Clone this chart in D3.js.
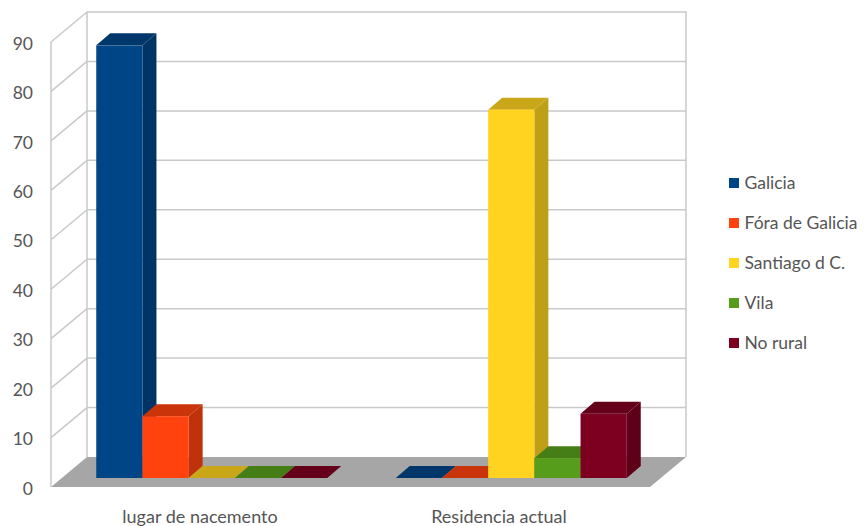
<!DOCTYPE html>
<html>
<head>
<meta charset="utf-8">
<script src="https://cdn.jsdelivr.net/npm/d3@7"></script>
<style>
html, body { margin: 0; padding: 0; background: #fff; }
text { font-family: Lato, "Open Sans", sans-serif; fill: #555; }
</style>
</head>
<body>
<svg id="chart" width="864" height="526"></svg>
<script>
const categories = ["lugar de nacemento", "Residencia actual"];
const seriesNames = ["Galicia", "Fóra de Galicia", "Santiago d C.", "Vila", "No rural"];
const seriesColors = ["#004586", "#ff420e", "#ffd320", "#579d1c", "#7e0021"];
const galiciaValues = [87.5, 0];
const foraValues = [12.5, 0];
const santiagoValues = [0, 74.5];
const vilaValues = [0, 4];
const ruralValues = [0, 13];
const seriesValues = [galiciaValues, foraValues, santiagoValues, vilaValues, ruralValues];
const yTicks = d3.range(0, 100, 10);

const svg = d3.select("#chart");

// Oblique projection: the wall sits at the back, the floor runs forward to the axis plane.
const wall = { left: 87, right: 686, bottom: 457, top: 12 };
const depth = { dx: -36, dy: 30 };
const barPlane = { dx: -25, dy: 21 };
const barDepth = { dx: 14, dy: -12 };

const y = d3.scaleLinear().domain([0, 90]).range([wall.bottom, wall.top]);
const group = d3.scaleBand().domain(categories)
  .range([wall.left + barPlane.dx, wall.right + barPlane.dx]);
const bar = d3.scaleBand().domain(seriesNames).range([0, 231]);
const labelX = d3.scalePoint().domain(categories).range([200, 499]);
const legendY = d3.scalePoint().domain(seriesNames).range([183, 343]);

const poly = pts => pts.map(p => p.join(",")).join(" ");
const gridColor = "#c9c9c9";

// Floor
svg.append("polygon")
  .attr("points", poly([
    [wall.left, wall.bottom], [wall.right, wall.bottom],
    [wall.right + depth.dx, wall.bottom + depth.dy], [wall.left + depth.dx, wall.bottom + depth.dy]
  ]))
  .attr("fill", "#a6a6a6");

// Back wall frame and grid lines, with their returns along the side wall
const grid = svg.append("g").attr("fill", "none").attr("stroke", gridColor).attr("stroke-width", 1.5);
grid.append("path").attr("d",
  `M${wall.left},${wall.bottom}V${wall.top}H${wall.right}V${wall.bottom}` +
  `M${wall.left + depth.dx},${y(0) + depth.dy}V${y(90) + depth.dy}`);
grid.selectAll("line.back").data(yTicks.filter(t => t > 0 && t < 90)).join("line")
  .attr("class", "back")
  .attr("x1", wall.left).attr("x2", wall.right)
  .attr("y1", d => y(d)).attr("y2", d => y(d));
grid.selectAll("line.side").data(yTicks.filter(t => t > 0)).join("line")
  .attr("class", "side")
  .attr("x1", wall.left + depth.dx).attr("x2", wall.left)
  .attr("y1", d => y(d) + depth.dy).attr("y2", d => y(d));

// Bars: front face, side face and top face for each value
const barWidth = bar.bandwidth();
const marks = [];
categories.forEach((c, ci) => {
  seriesNames.forEach((s, si) => {
    marks.push({ c, s, value: seriesValues[si][ci], color: seriesColors[si] });
  });
});
const barGroups = svg.append("g").selectAll("g").data(marks).join("g");

barGroups.each(function (d) {
  const g = d3.select(this);
  const x0 = group(d.c) + (group.bandwidth() - bar.range()[1]) / 2 + bar(d.s);
  const x1 = x0 + barWidth;
  const yBase = y(0) + barPlane.dy;
  const yTop = y(d.value) + barPlane.dy;
  const dark = d3.rgb(d.color).darker(0.8);
  const mid = d3.rgb(d.color).darker(0.65);
  if (d.value > 0) {
    g.append("polygon").attr("fill", dark).attr("points", poly([
      [x1, yBase], [x1 + barDepth.dx, yBase + barDepth.dy],
      [x1 + barDepth.dx, yTop + barDepth.dy], [x1, yTop]
    ]));
  }
  g.append("polygon").attr("fill", mid).attr("points", poly([
    [x0, yTop], [x0 + barDepth.dx, yTop + barDepth.dy],
    [x1 + barDepth.dx, yTop + barDepth.dy], [x1, yTop]
  ]));
  if (d.value > 0) {
    g.append("rect").attr("fill", d.color)
      .attr("x", x0).attr("y", yTop)
      .attr("width", barWidth).attr("height", yBase - yTop);
  }
});

// Value axis labels
svg.append("g").selectAll("text").data(yTicks).join("text")
  .attr("x", 33)
  .attr("y", d => y(d) + depth.dy + 1.5)
  .attr("dy", "0.35em")
  .attr("text-anchor", "end")
  .attr("font-size", 17.5)
  .text(d => d);

// Category labels
svg.append("g").selectAll("text").data(categories).join("text")
  .attr("x", d => labelX(d))
  .attr("y", 517)
  .attr("dy", "0.35em")
  .attr("text-anchor", "middle")
  .attr("font-size", 18)
  .text(d => d);

// Legend
const legend = svg.append("g").selectAll("g").data(seriesNames).join("g")
  .attr("transform", d => `translate(729,${legendY(d)})`);
legend.append("rect")
  .attr("x", 0).attr("y", -5).attr("width", 10).attr("height", 10)
  .attr("fill", (d, i) => seriesColors[i]);
legend.append("text")
  .attr("x", 15.5)
  .attr("dy", "0.35em")
  .attr("font-size", 17.5)
  .text(d => d);
</script>
</body>
</html>
